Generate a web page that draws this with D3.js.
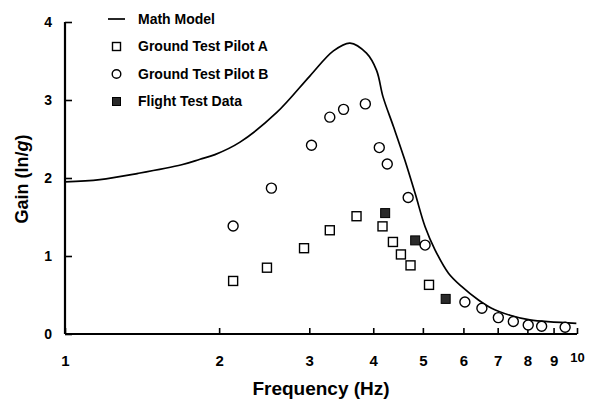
<!DOCTYPE html>
<html>
  <head>
    <meta charset="UTF-8" />
    <title>Gain vs Frequency</title>
    <style>
      body { margin: 0; background: #fff; }
      text { font-family: "Liberation Sans", Arial, sans-serif; font-weight: bold; fill: #000; }
    </style>
    <script src="https://d3js.org/d3.v7.min.js"></script>
  </head>
  <body>
    <svg id="viz" width="591" height="401"></svg>
    <script>
      // math model curve
      var modelFreq = [1, 1.17, 1.39, 1.69, 1.835, 1.963, 2.197, 2.592, 3.01, 3.344, 3.603, 3.88, 4.06, 4.18, 4.38, 4.61, 4.83, 5.05, 5.28, 5.61, 5.95, 6.42, 6.81, 7.4, 8.09, 9.97];
      var modelGain = [1.95, 1.98, 2.06, 2.17, 2.24, 2.3, 2.46, 2.84, 3.31, 3.63, 3.73, 3.6, 3.38, 3.04, 2.66, 2.23, 1.8, 1.375, 1.08, 0.78, 0.61, 0.436, 0.33, 0.24, 0.18, 0.137];

      var pilotAFreq = [2.13, 2.48, 2.93, 3.29, 3.71, 4.17, 4.37, 4.53, 4.73, 5.14];
      var pilotAGain = [0.68, 0.85, 1.1, 1.33, 1.51, 1.38, 1.18, 1.02, 0.88, 0.63];

      var pilotBFreq = [2.13, 2.53, 3.03, 3.29, 3.5, 3.86, 4.11, 4.26, 4.68, 5.05, 6.04, 6.52, 7.02, 7.51, 8.03, 8.53, 9.48];
      var pilotBGain = [1.385, 1.87, 2.42, 2.78, 2.88, 2.95, 2.39, 2.18, 1.75, 1.14, 0.41, 0.33, 0.21, 0.16, 0.115, 0.1, 0.086];

      var flightFreq = [4.22, 4.83, 5.54];
      var flightGain = [1.55, 1.2, 0.45];

      var xTicks = [1, 2, 3, 4, 5, 6, 7, 8, 9, 10];
      var yTicks = [0, 1, 2, 3, 4];

      var legendLabels = ["Math Model", "Ground Test Pilot A", "Ground Test Pilot B", "Flight Test Data"];

      var svg = d3.select("#viz");
      var x = d3.scaleLog().domain([1, 10]).range([65, 577]);
      var y = d3.scaleLinear().domain([0, 4]).range([334, 22]);

      // axes
      var xAxis = d3.axisBottom(x).tickValues(xTicks).tickSize(-6).tickFormat(d3.format("d")).tickPadding(21);
      var gx = svg.append("g").attr("transform", "translate(0,334)").call(xAxis);
      var yAxis = d3.axisLeft(y).tickValues(yTicks).tickSize(-7).tickFormat(d3.format("d")).tickPadding(13);
      var gy = svg.append("g").attr("transform", "translate(65,0)").call(yAxis);

      [gx, gy].forEach(function (g) {
        g.select(".domain").attr("stroke", "#000").attr("stroke-width", 2.2);
        g.selectAll(".tick line").attr("stroke", "#000").attr("stroke-width", 1.6);
        g.selectAll(".tick text").style("font-family", "Liberation Sans, Arial, sans-serif").style("font-weight", "bold");
      });
      gy.selectAll(".tick text").style("font-size", "14px");
      gx.selectAll(".tick text").style("font-size", "15px");
      gy.select(".domain").attr("d", "M0,334V22");
      gx.select(".domain").attr("d", "M65,0H577");
      gx.selectAll(".tick").filter(function (d) { return d === 10; }).select("text").style("font-size", "13px").attr("dy", "0.55em");

      // axis titles
      svg.append("text")
        .attr("x", 321).attr("y", 395)
        .attr("text-anchor", "middle")
        .style("font-size", "19px")
        .text("Frequency (Hz)");

      var yt = svg.append("text")
        .attr("transform", "translate(28,179) rotate(-90)")
        .attr("text-anchor", "middle")
        .style("font-size", "18px");
      yt.append("tspan").text("Gain (In/");
      yt.append("tspan").style("font-style", "italic").text("g");
      yt.append("tspan").text(")");

      // model line
      var model = modelFreq.map(function (f, i) { return [f, modelGain[i]]; });
      var line = d3.line()
        .x(function (d) { return x(d[0]); })
        .y(function (d) { return y(d[1]); })
        .curve(d3.curveCatmullRom.alpha(0.5));
      svg.append("path")
        .datum(model)
        .attr("d", line)
        .attr("fill", "none")
        .attr("stroke", "#000")
        .attr("stroke-width", 1.7);

      // pilot B circles
      svg.selectAll("circle.pb")
        .data(pilotBFreq.map(function (f, i) { return [f, pilotBGain[i]]; }))
        .enter().append("circle")
        .attr("class", "pb")
        .attr("cx", function (d) { return x(d[0]); })
        .attr("cy", function (d) { return y(d[1]); })
        .attr("r", 5)
        .attr("fill", "#fff")
        .attr("stroke", "#000")
        .attr("stroke-width", 1.4);

      // pilot A squares
      svg.selectAll("rect.pa")
        .data(pilotAFreq.map(function (f, i) { return [f, pilotAGain[i]]; }))
        .enter().append("rect")
        .attr("class", "pa")
        .attr("x", function (d) { return x(d[0]) - 4.5; })
        .attr("y", function (d) { return y(d[1]) - 4.5; })
        .attr("width", 9).attr("height", 9)
        .attr("fill", "#fff")
        .attr("stroke", "#000")
        .attr("stroke-width", 1.4);

      // flight test squares
      svg.selectAll("rect.ft")
        .data(flightFreq.map(function (f, i) { return [f, flightGain[i]]; }))
        .enter().append("rect")
        .attr("class", "ft")
        .attr("x", function (d) { return x(d[0]) - 4.5; })
        .attr("y", function (d) { return y(d[1]) - 4.5; })
        .attr("width", 9).attr("height", 9)
        .attr("fill", "#2a2a2a")
        .attr("stroke", "#000")
        .attr("stroke-width", 1);

      // legend
      var lg = svg.append("g");
      legendLabels.forEach(function (label, i) {
        var ly = 19 + i * 27.5;
        lg.append("text")
          .attr("x", 138).attr("y", ly)
          .attr("dy", "0.35em")
          .style("font-size", "14px")
          .text(label);
        if (i === 0) {
          lg.append("line").attr("x1", 108).attr("x2", 125).attr("y1", ly).attr("y2", ly)
            .attr("stroke", "#000").attr("stroke-width", 1.7);
        } else if (i === 1) {
          lg.append("rect").attr("x", 112.5).attr("y", ly - 4).attr("width", 8).attr("height", 8)
            .attr("fill", "#fff").attr("stroke", "#000").attr("stroke-width", 1.4);
        } else if (i === 2) {
          lg.append("circle").attr("cx", 116.5).attr("cy", ly).attr("r", 4.3)
            .attr("fill", "#fff").attr("stroke", "#000").attr("stroke-width", 1.4);
        } else {
          lg.append("rect").attr("x", 112.5).attr("y", ly - 4).attr("width", 8).attr("height", 8)
            .attr("fill", "#2a2a2a").attr("stroke", "#000").attr("stroke-width", 1);
        }
      });
    </script>
  </body>
</html>
